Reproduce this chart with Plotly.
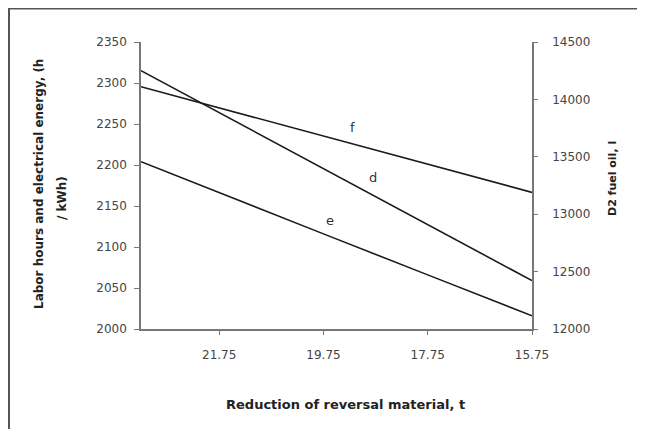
import plotly.graph_objects as go

# Data
reduction_t = [23.25, 21.75, 19.75, 17.75, 15.75]
labor_hours_d = [2315, 2264, 2196, 2127, 2059]
electrical_energy_e = [2204, 2166, 2116, 2066, 2016]
d2_fuel_oil_f = [14110, 13925, 13680, 13435, 13190]

x_ticks = [21.75, 19.75, 17.75, 15.75]
x_tick_text = ["21.75", "19.75", "17.75", "15.75"]
y1_ticks = [2000, 2050, 2100, 2150, 2200, 2250, 2300, 2350]
y2_ticks = [12000, 12500, 13000, 13500, 14000, 14500]
y2_tick_text = ["12000", "12500", "13000", "13500", "14000", "14500"]

W, H = 645, 429
OFF = 8  # page body margin
L, R, T, B = 141 - OFF, 532 - OFF, 42 - OFF, 329 - OFF
pw, ph = R - L, B - T

FAM = "DejaVu Sans, Liberation Sans, Arial, sans-serif"
line_style = dict(color="#1a1a1a", width=1.6)
fig = go.Figure()
fig.add_trace(go.Scatter(x=reduction_t, y=labor_hours_d, mode="lines", line=line_style,
                         name="d", showlegend=False, hoverinfo="skip"))
fig.add_trace(go.Scatter(x=reduction_t, y=electrical_energy_e, mode="lines", line=line_style,
                         name="e", showlegend=False, hoverinfo="skip"))
fig.add_trace(go.Scatter(x=reduction_t, y=d2_fuel_oil_f, mode="lines", line=line_style,
                         name="f", yaxis="y2", showlegend=False, hoverinfo="skip"))

font = dict(family=FAM, size=12, color="#444")
axis_col = "#777"

fig.update_layout(
    width=W, height=H,
    margin=dict(l=L, r=W - R, t=T, b=H - B, pad=0),
    paper_bgcolor="white", plot_bgcolor="white",
    font=font,
    xaxis=dict(range=[reduction_t[0], reduction_t[-1]], tickvals=x_ticks, ticktext=x_tick_text,
               showgrid=False, zeroline=False, showline=True, linecolor=axis_col, linewidth=1.5,
               ticks="outside", ticklen=4, tickcolor=axis_col, tickfont=font,
               ticklabelstandoff=10),
    yaxis=dict(range=[2000, 2350], tickvals=y1_ticks, showgrid=False, zeroline=False,
               showline=True, linecolor=axis_col, linewidth=1.5, ticks="outside", ticklen=5,
               tickcolor=axis_col, tickfont=font, ticklabelstandoff=5),
    yaxis2=dict(range=[12000, 14500], tickvals=y2_ticks, ticktext=y2_tick_text,
                overlaying="y", side="right",
                showgrid=False, zeroline=False, showline=True, linecolor=axis_col, linewidth=1.5,
                ticks="outside", ticklen=4, tickcolor=axis_col, tickfont=font,
                ticklabelstandoff=12),
)

def px_x(p):
    return (p - OFF - L) / pw

def px_y(p):
    return (B - (p - OFF)) / ph

# Outer frame
fig.add_shape(type="rect", xref="paper", yref="paper",
              x0=px_x(9), x1=px_x(720), y0=px_y(520), y1=px_y(8.5),
              line=dict(color="#555", width=2), layer="below")

def note(text, xp, yp, size, color="#222", angle=0):
    fig.add_annotation(xref="paper", yref="paper", x=px_x(xp), y=px_y(yp),
                       xanchor="center", yanchor="middle", text=text, showarrow=False,
                       textangle=angle, font=dict(family=FAM, size=size, color=color))

# Axis titles
note("<b>Reduction of reversal material, t</b>", 345, 404, 13)
note("<b>Labor hours and electrical energy, (h</b>", 39, 184, 12, angle=-90)
note("<b>/ kWh)</b>", 62, 198, 12, angle=-90)
note("<b>D2 fuel oil, l</b>", 612, 179, 11, angle=-90)

# Line labels
for txt, xp, yp in [("f", 352, 127), ("d", 373, 177), ("e", 330, 220)]:
    note(txt, xp, yp, 13, color="#333")

fig.write_html("out.html")
